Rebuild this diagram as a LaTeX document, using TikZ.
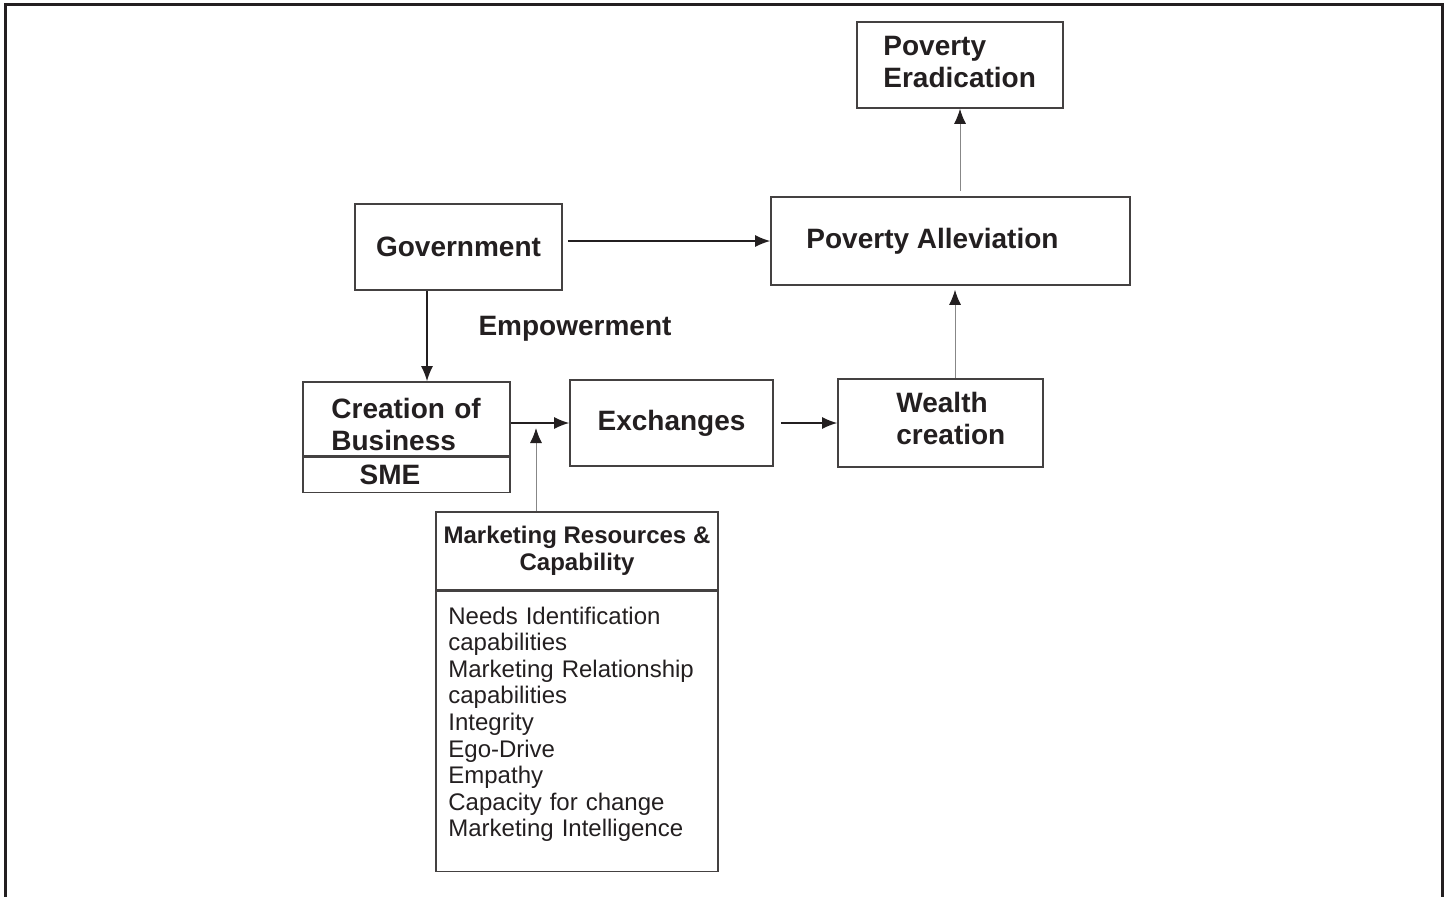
\documentclass[tikz,border=0pt]{standalone}
\usepackage{fontspec}
\setmainfont{Liberation Sans}
\usetikzlibrary{arrows.meta,positioning}
\definecolor{inkblack}{RGB}{35,31,32}
\definecolor{linegray}{RGB}{135,135,135}

\begin{document}
\begin{tikzpicture}[x=0.5pt,y=-0.5pt,
      blk/.style={draw=inkblack!85,line width=0.8pt,inner sep=0pt,align=center,text=inkblack,font=\fontsize{14}{16}\selectfont\bfseries},
      txt/.style={text=inkblack,inner sep=0pt,align=left,anchor=base west,font=\fontsize{14}{16}\selectfont\bfseries},
      arr/.style={-{Latex[length=7.5pt,width=6pt]},line width=0.7pt,inkblack},
      garr/.style={-{Latex[length=7.5pt,width=6pt,color=inkblack]},line width=0.5pt,linegray}]
      \useasboundingbox (0,0) rectangle (1447,896);
      \draw[line width=1.5pt,inkblack] (5.5,4) rectangle (1442,920);
      % top of the chain
      \node[blk,minimum width=103pt,minimum height=43pt] (erad) at (960,65) {};
      \node[txt,text width=80pt] (eradtext) at (883,55) {Poverty\\Eradication};
      \node[blk,minimum width=179.5pt,minimum height=44pt] (alle) at (950.5,241) {Poverty Alleviation\hspace*{18pt}};
      \node[blk,minimum width=103.5pt,minimum height=43pt] (gov) at (458.5,247) {Government};
      \node[text=inkblack,font=\fontsize{14}{16}\selectfont\bfseries] (emp) at (575,329) {Empowerment};
      % middle row
      \node[blk,minimum width=103.5pt,minimum height=37pt] (crea) at (406.5,419) {};
      \node[txt,text width=80pt] (creatext) at (331,418) {Creation of\\Business};
      \node[blk,minimum width=103.5pt,minimum height=17.5pt,below=0pt of crea] (sme) {SME\hspace*{16.5pt}};
      \node[blk,minimum width=101.5pt,minimum height=43pt] (exch) at (671.5,423) {Exchanges};
      \node[blk,minimum width=102.5pt,minimum height=44pt] (wealth) at (940.5,423) {};
      \node[txt,text width=70pt] (wealthtext) at (896,412) {Wealth\\creation};
      % marketing box
      \node[blk,font=\fontsize{12}{13.5}\selectfont\bfseries,minimum width=141pt,minimum height=39pt] (mkthead) at (577,551) {Marketing Resources \&\\Capability};
      \node[blk,minimum width=141pt,minimum height=140pt,below=0pt of mkthead] (mktlist) {};
      \node[txt,font=\fontsize{12}{13.3}\selectfont,text width=129pt] (mktitems) at (448,624) {Needs Identification\\capabilities\\Marketing Relationship\\capabilities\\Integrity\\Ego-Drive\\Empathy\\Capacity for change\\Marketing Intelligence};
      \coordinate (govdrop) at ([xshift=-15.75pt]gov.south);
      \coordinate (join) at (536,428);
      \coordinate (wup) at ([xshift=7.25pt]wealth.north);
      \draw[arr,shorten <=2.5pt] (gov.east |- alle.west) -- (alle.west);
      \draw[arr] (govdrop) -- (govdrop |- crea.north);
      \draw[arr] (crea.east |- exch.west) -- (exch.west);
      \draw[garr] (join |- mkthead.north) -- (join);
      \draw[arr,shorten <=3.5pt] (exch.east) -- (wealth.west);
      \draw[garr,shorten >=2pt] (wup) -- (wup |- alle.south);
      \draw[garr,shorten <=2.5pt] (erad.south |- alle.north) -- (erad.south);
    \end{tikzpicture}
\end{document}
